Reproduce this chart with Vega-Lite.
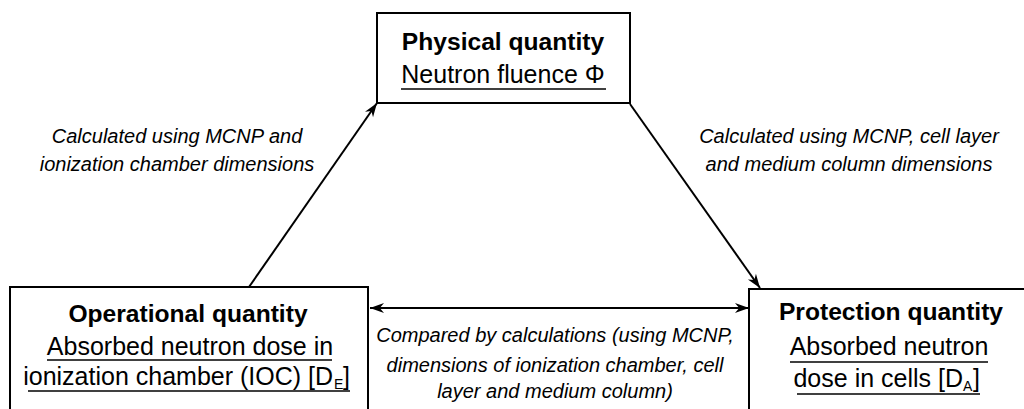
{
  "$schema": "https://vega.github.io/schema/vega-lite/v6.json",
  "width": 1024,
  "height": 409,
  "padding": 0,
  "autosize": {"type": "none"},
  "background": "white",
  "config": {"view": {"stroke": null}},
  "datasets": {
    "boxes": [
      {"box": "Physical quantity", "x": 377, "y": 13, "x2": 630, "y2": 103},
      {"box": "Operational quantity", "x": 10, "y": 287, "x2": 368, "y2": 430},
      {"box": "Protection quantity", "x": 749, "y": 289, "x2": 1060, "y2": 430}
    ],
    "arrows": [
      {"link": "IOC to fluence", "x": 249, "y": 287, "x2": 377, "y2": 103},
      {"link": "fluence to cells", "x": 630, "y": 104, "x2": 760, "y2": 288},
      {"link": "IOC vs cells", "x": 370, "y": 308, "x2": 749, "y2": 308}
    ],
    "underlines": [
      {"x": 401, "x2": 606, "y": 89},
      {"x": 47, "x2": 332, "y": 360},
      {"x": 28, "x2": 350, "y": 391},
      {"x": 790, "x2": 988, "y": 362},
      {"x": 797, "x2": 980, "y": 394}
    ],
    "titles": [
      {"text": "Physical quantity", "x": 503, "y": 50},
      {"text": "Operational quantity", "x": 188, "y": 322},
      {"text": "Protection quantity", "x": 891, "y": 320}
    ],
    "labels": [
      {"text": "Neutron fluence Φ", "x": 503, "y": 83},
      {"text": "Absorbed neutron dose in", "x": 190, "y": 355},
      {"text": "Absorbed neutron", "x": 889, "y": 355}
    ],
    "labelsRight": [
      {"text": "ionization chamber (IOC) [D", "x": 333, "y": 385},
      {"text": "dose in cells [D", "x": 963, "y": 387}
    ],
    "subs": [
      {"text": "E", "x": 334, "y": 389},
      {"text": "A", "x": 963, "y": 391}
    ],
    "brackets": [
      {"text": "]", "x": 343, "y": 385},
      {"text": "]", "x": 973, "y": 387}
    ],
    "notes": [
      {"text": "Calculated using MCNP and", "x": 177, "y": 143},
      {"text": "ionization chamber dimensions", "x": 177, "y": 171},
      {"text": "Calculated using MCNP, cell layer", "x": 849, "y": 143},
      {"text": "and medium column dimensions", "x": 849, "y": 171},
      {"text": "Compared by calculations (using MCNP,", "x": 555, "y": 342},
      {"text": "dimensions of ionization chamber, cell", "x": 555, "y": 372},
      {"text": "layer and medium column)", "x": 555, "y": 398}
    ]
  },
  "encoding": {
    "x": {"field": "x", "type": "quantitative", "scale": {"domain": [0, 1024], "nice": false, "zero": false}, "axis": null},
    "y": {"field": "y", "type": "quantitative", "scale": {"domain": [0, 409], "nice": false, "zero": false, "reverse": true}, "axis": null}
  },
  "layer": [
    {
      "data": {"name": "boxes"},
      "mark": {"type": "rect", "fill": "transparent", "stroke": "black", "strokeWidth": 2},
      "encoding": {"x2": {"field": "x2"}, "y2": {"field": "y2"}}
    },
    {
      "data": {"name": "arrows"},
      "mark": {"type": "rule", "color": "black", "strokeWidth": 2},
      "encoding": {"x2": {"field": "x2"}, "y2": {"field": "y2"}}
    },
    {
      "data": {"name": "underlines"},
      "mark": {"type": "rule", "color": "black", "strokeWidth": 1.5},
      "encoding": {"x2": {"field": "x2"}}
    },
    {
      "data": {"values": [{"x": 377, "y": 103}]},
      "mark": {"type": "point", "filled": true, "color": "black", "opacity": 1, "shape": "M0,0 L-2,-0.7 L-1.4,0 L-2,0.7 Z", "size": 196, "angle": -55.2}
    },
    {
      "data": {"values": [{"x": 760, "y": 288}]},
      "mark": {"type": "point", "filled": true, "color": "black", "opacity": 1, "shape": "M0,0 L-2,-0.7 L-1.4,0 L-2,0.7 Z", "size": 196, "angle": 54.8}
    },
    {
      "data": {"values": [{"x": 749, "y": 308}]},
      "mark": {"type": "point", "filled": true, "color": "black", "opacity": 1, "shape": "M0,0 L-2,-0.7 L-1.4,0 L-2,0.7 Z", "size": 196, "angle": 0}
    },
    {
      "data": {"values": [{"x": 370, "y": 308}]},
      "mark": {"type": "point", "filled": true, "color": "black", "opacity": 1, "shape": "M0,0 L-2,-0.7 L-1.4,0 L-2,0.7 Z", "size": 196, "angle": 180}
    },
    {
      "data": {"name": "titles"},
      "mark": {"type": "text", "font": "Liberation Sans", "fontWeight": "bold", "fontSize": 24.6, "align": "center", "baseline": "alphabetic", "color": "black"},
      "encoding": {"text": {"field": "text"}}
    },
    {
      "data": {"name": "labels"},
      "mark": {"type": "text", "font": "Liberation Sans", "fontSize": 25, "align": "center", "baseline": "alphabetic", "color": "black"},
      "encoding": {"text": {"field": "text"}}
    },
    {
      "data": {"name": "labelsRight"},
      "mark": {"type": "text", "font": "Liberation Sans", "fontSize": 25, "align": "right", "baseline": "alphabetic", "color": "black"},
      "encoding": {"text": {"field": "text"}}
    },
    {
      "data": {"name": "subs"},
      "mark": {"type": "text", "font": "Liberation Sans", "fontSize": 14, "align": "left", "baseline": "alphabetic", "color": "black"},
      "encoding": {"text": {"field": "text"}}
    },
    {
      "data": {"name": "brackets"},
      "mark": {"type": "text", "font": "Liberation Sans", "fontSize": 25, "align": "left", "baseline": "alphabetic", "color": "black"},
      "encoding": {"text": {"field": "text"}}
    },
    {
      "data": {"name": "notes"},
      "mark": {"type": "text", "font": "Liberation Sans", "fontStyle": "italic", "fontSize": 20, "align": "center", "baseline": "alphabetic", "color": "black"},
      "encoding": {"text": {"field": "text"}}
    }
  ]
}
